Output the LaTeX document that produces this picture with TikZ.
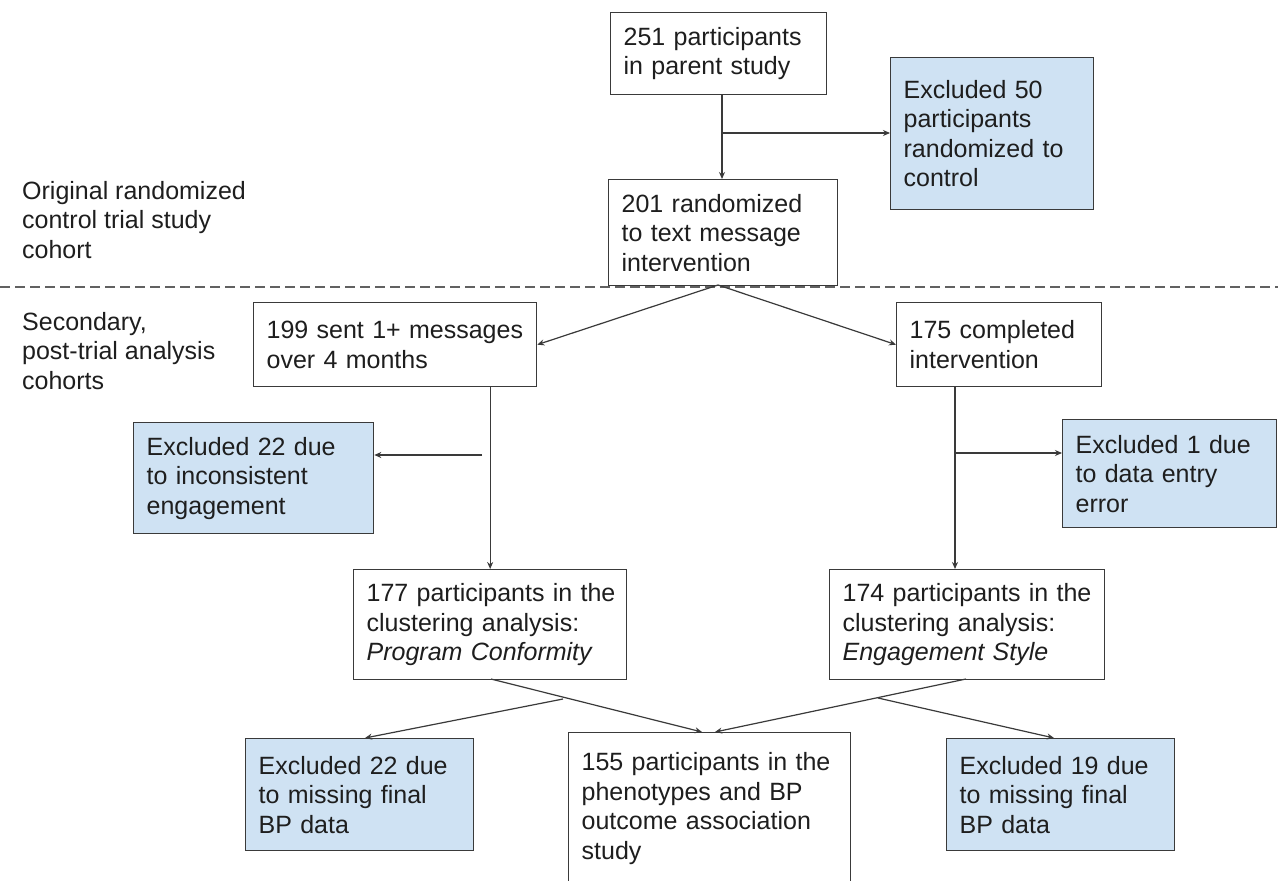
\documentclass[tikz,border=0pt]{standalone}
\usepackage{fontspec}
\setmainfont{Liberation Sans}
\usetikzlibrary{arrows.meta,calc}
\definecolor{txt}{HTML}{1E1E1E}
\definecolor{linec}{HTML}{3A3A3A}
\definecolor{bluefill}{HTML}{CFE2F3}
\begin{document}
\begin{tikzpicture}[x=1pt,y=-1pt,
  every node/.style={font=\fontsize{25}{29.5}\selectfont, text=txt},
  box/.style={draw=linec, line width=1.3pt, inner xsep=13pt, inner ysep=0pt,
              align=left, anchor=north west, fill=white},
  exbox/.style={box, fill=bluefill},
  lbl/.style={inner sep=0pt, align=left, anchor=west},
  arr/.style={draw=linec, line width=1.2pt, -{Stealth[length=7pt,width=6pt]}},
  ln/.style={draw=linec, line width=1.2pt}]
\useasboundingbox (0,0) rectangle (1278,881);
\fill[white] (0,0) rectangle (1278,881);

% section divider
\draw[draw=linec!80, line width=1.3pt, dash pattern=on 10pt off 5pt] (0,287) -- (1278,287);

% side labels
\node[lbl] (l1) at (22,220) {Original randomized\\control trial study\\cohort};
\node[lbl] (l2) at (22,351) {Secondary,\\post-trial analysis\\cohorts};

% boxes
\node[box, text width=190pt, minimum height=82pt] (A) at (610,12) {251 participants\\in parent study};
\node[exbox, text width=177pt, minimum height=152pt] (X50) at (890,57) {Excluded 50\\participants\\randomized to\\control};
\node[box, text width=203pt, minimum height=106pt] (B) at (608,179) {201 randomized\\to text message\\intervention};
\node[box, text width=257pt, minimum height=84pt] (C) at (253,302) {\mbox{199 sent 1+ messages}\\over 4 months};
\node[box, text width=179pt, minimum height=84pt] (D) at (896,302) {175 completed\\intervention};
\node[exbox, text width=214pt, minimum height=111pt] (X22a) at (133,422) {Excluded 22 due\\to inconsistent\\engagement};
\node[exbox, text width=188pt, minimum height=108pt] (X1) at (1062,419) {Excluded 1 due\\to data entry\\error};
\node[box, text width=247pt, minimum height=110pt] (E) at (353,569) {\mbox{177 participants in the}\\clustering analysis:\\\textit{Program Conformity}};
\node[box, text width=249pt, minimum height=110pt] (F) at (829,569) {\mbox{174 participants in the}\\clustering analysis:\\\textit{Engagement Style}};
\node[exbox, text width=202pt, minimum height=112pt] (X22b) at (245,738) {Excluded 22 due\\to missing final\\BP data};
\node[box, text width=256pt, minimum height=152pt] (G) at (568,732) {\mbox{155 participants in the}\\phenotypes and BP\\outcome association\\study};
\node[exbox, text width=202pt, minimum height=112pt] (X19) at (946,738) {Excluded 19 due\\to missing final\\BP data};

% junction coordinates
\coordinate (j1) at (722,133);
\coordinate (j2) at (482,455);
\coordinate (ds) at (955,386);
\coordinate (j3) at (955,453);
\coordinate (bs) at (718,285);
\coordinate (es) at (491,679);
\coordinate (fs) at (966,679);
\coordinate (g1) at (702,732);
\coordinate (g2) at (715,732);
\coordinate (k1) at (563,699);
\coordinate (k2) at (878,698);
\coordinate (xa) at (365,738);
\coordinate (xb) at (1054,738);

% connectors
\draw[arr] (A.south -| j1) -- (B.north -| j1);
\draw[arr] (j1) -- (j1 -| X50.west);
\draw[arr] (bs) -- (C.east);
\draw[arr] (bs) -- (D.west);
\draw[arr] (C.south -| E.north) -- (E.north);
\draw[arr] (j2) -- (j2 -| X22a.east);
\draw[arr] (ds) -- (ds |- F.north);
\draw[arr] (j3) -- (j3 -| X1.west);
\draw[arr] (es) -- (g1);
\draw[arr] (k1) -- (xa);
\draw[arr] (fs) -- (g2);
\draw[arr] (k2) -- (xb);
\end{tikzpicture}
\end{document}
